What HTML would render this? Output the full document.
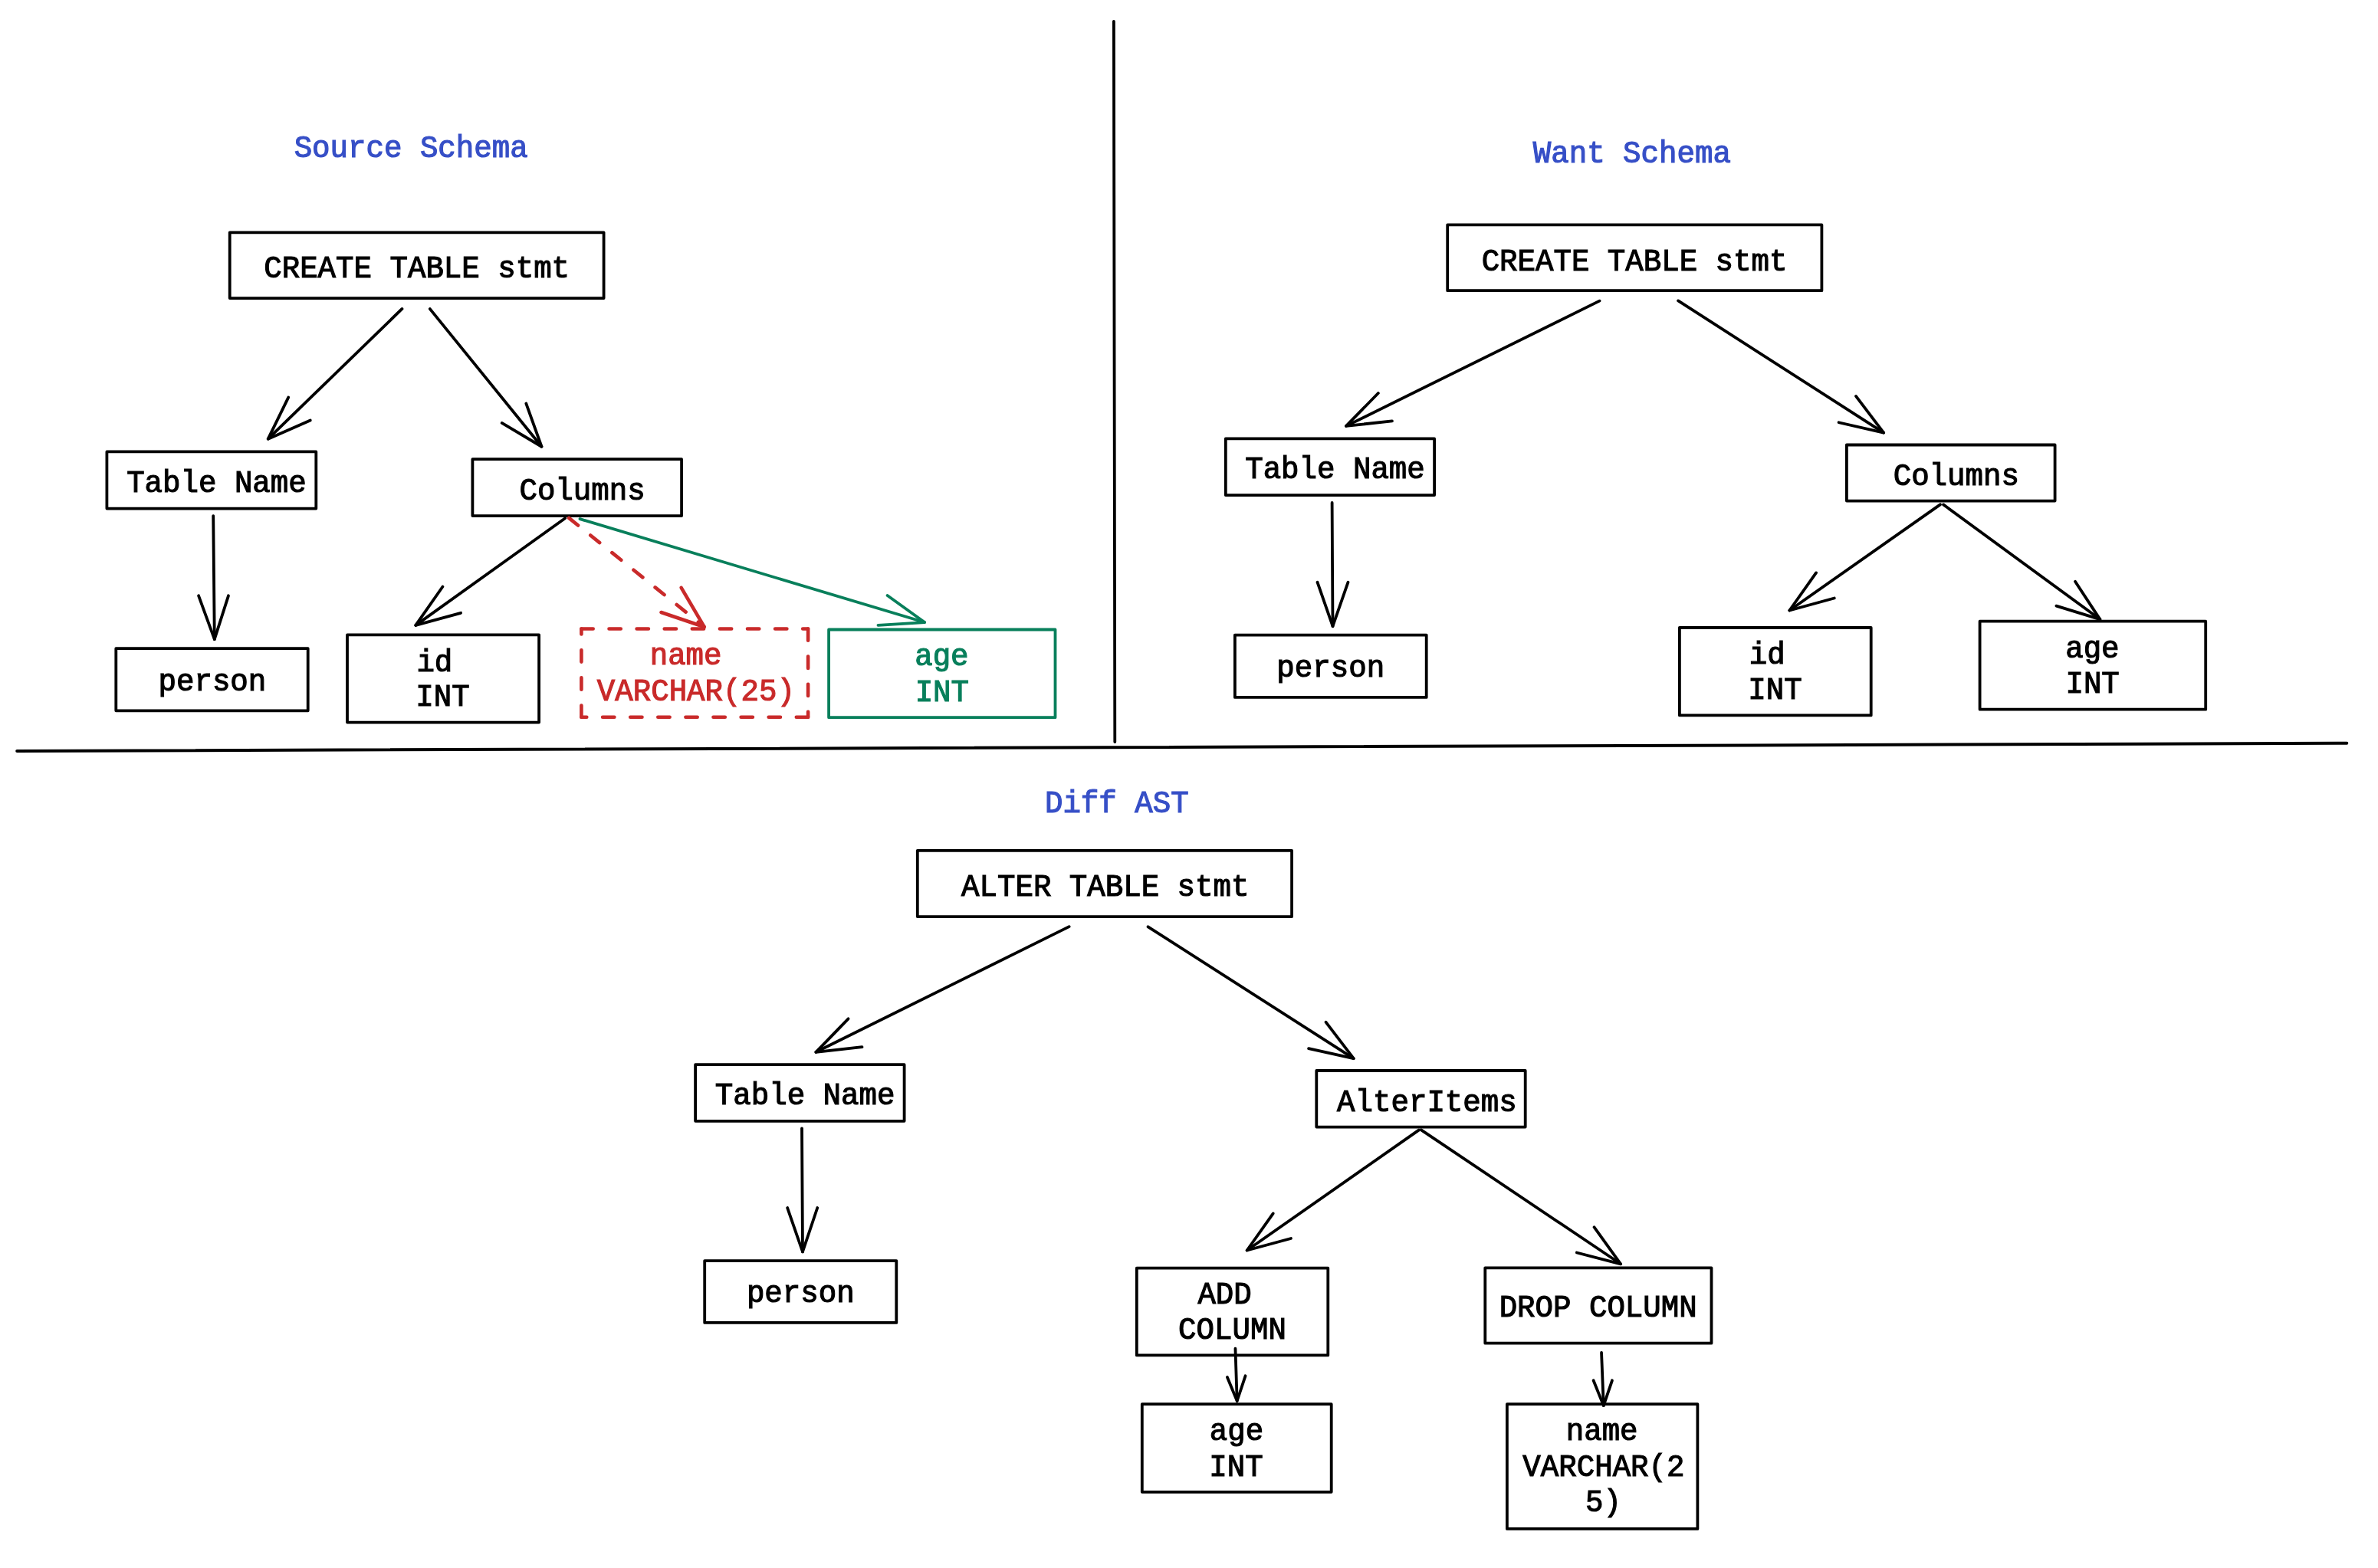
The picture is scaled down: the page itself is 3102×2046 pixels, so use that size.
<!DOCTYPE html>
<html><head><meta charset="utf-8"><title>Diagram</title>
<style>
html,body{margin:0;padding:0;background:#ffffff;width:3102px;height:2046px;overflow:hidden}
svg{display:block;will-change:transform}
text{font-family:"Liberation Mono",monospace;font-size:41px;stroke-width:1.2px;white-space:pre}
path{stroke-linecap:round;stroke-linejoin:round;fill:none}
</style></head><body>
<svg width="3102" height="2046" viewBox="0 0 3102 2046">
<path d="M1452.90 28.00L1454.30 968.00" stroke="#000000" stroke-width="3.8"/>
<path d="M22.20 980.00L3061.30 969.80" stroke="#000000" stroke-width="4.0"/>
<text transform="translate(383.66,204.50) scale(0.954,1.0)" fill="#364fc7" stroke="#364fc7">Source Schema</text>
<rect x="299.70" y="303.30" width="487.90" height="85.80" fill="none" stroke="#000000" stroke-width="3.8" stroke-linejoin="round"/>
<text transform="translate(344.24,362.00) scale(0.954,1.0)" fill="#000000" stroke="#000000">CREATE TABLE stmt</text>
<path d="M524.51 402.96L349.74 572.67" stroke="#000000" stroke-width="3.8"/>
<path d="M376.17 518.58L349.74 572.67L404.80 548.51" stroke="#000000" stroke-width="3.8" fill="none"/>
<path d="M560.86 403.08L706.48 582.75" stroke="#000000" stroke-width="3.8"/>
<path d="M686.26 526.42L706.48 582.75L654.65 551.99" stroke="#000000" stroke-width="3.8" fill="none"/>
<rect x="139.40" y="589.40" width="272.90" height="74.20" fill="none" stroke="#000000" stroke-width="3.8" stroke-linejoin="round"/>
<text transform="translate(165.13,642.40) scale(0.954,1.0)" fill="#000000" stroke="#000000">Table Name</text>
<rect x="616.40" y="599.20" width="272.70" height="73.90" fill="none" stroke="#000000" stroke-width="3.8" stroke-linejoin="round"/>
<text transform="translate(677.43,652.20) scale(0.954,1.0)" fill="#000000" stroke="#000000">Columns</text>
<path d="M278.21 673.22L279.80 834.11" stroke="#000000" stroke-width="3.8"/>
<path d="M259.06 777.31L279.80 834.11L297.97 777.32" stroke="#000000" stroke-width="3.8" fill="none"/>
<rect x="151.30" y="846.20" width="250.40" height="81.10" fill="none" stroke="#000000" stroke-width="3.8" stroke-linejoin="round"/>
<text transform="translate(206.50,901.20) scale(0.954,1.0)" fill="#000000" stroke="#000000">person</text>
<path d="M737.16 676.19L542.25 815.89" stroke="#000000" stroke-width="3.8"/>
<path d="M577.46 765.52L542.25 815.89L601.07 799.80" stroke="#000000" stroke-width="3.8" fill="none"/>
<rect x="453.00" y="828.40" width="250.10" height="114.20" fill="none" stroke="#000000" stroke-width="3.8" stroke-linejoin="round"/>
<text transform="translate(543.40,875.70) scale(0.954,1.0)" fill="#000000" stroke="#000000">id</text>
<text transform="translate(542.25,921.40) scale(0.954,1.0)" fill="#000000" stroke="#000000">INT</text>
<path d="M742.13 675.85L918.62 817.96" stroke="#c92a2a" stroke-width="4.6" stroke-dasharray="15.3 20.8"/>
<path d="M888.67 766.79L918.62 817.96L862.47 799.00" stroke="#c92a2a" stroke-width="4.6" fill="none"/>
<path d="M758.40 820.50L1054.10 820.50" stroke="#c92a2a" stroke-width="4.6" stroke-dasharray="15.3 20.8"/>
<path d="M1054.10 820.50L1054.10 935.80" stroke="#c92a2a" stroke-width="4.6" stroke-dasharray="15.3 20.8"/>
<path d="M1054.10 935.80L758.40 935.80" stroke="#c92a2a" stroke-width="4.6" stroke-dasharray="15.3 20.8"/>
<path d="M758.40 935.80L758.40 820.50" stroke="#c92a2a" stroke-width="4.6" stroke-dasharray="15.3 20.8"/>
<text transform="translate(847.68,867.30) scale(0.954,1.0)" fill="#c92a2a" stroke="#c92a2a">name</text>
<text transform="translate(778.82,913.70) scale(0.954,1.0)" fill="#c92a2a" stroke="#c92a2a">VARCHAR(25)</text>
<path d="M756.46 677.14L1206.12 812.05" stroke="#087f5b" stroke-width="3.8"/>
<path d="M1157.52 777.04L1206.12 812.05L1145.46 815.95" stroke="#087f5b" stroke-width="3.8" fill="none"/>
<rect x="1081.10" y="821.50" width="295.40" height="114.70" fill="none" stroke="#087f5b" stroke-width="3.8" stroke-linejoin="round"/>
<text transform="translate(1193.20,867.90) scale(0.954,1.0)" fill="#087f5b" stroke="#087f5b">age</text>
<text transform="translate(1193.65,914.50) scale(0.954,1.0)" fill="#087f5b" stroke="#087f5b">INT</text>
<text transform="translate(1999.79,212.40) scale(0.954,1.0)" fill="#364fc7" stroke="#364fc7">Want Schema</text>
<rect x="1888.20" y="293.30" width="488.20" height="85.90" fill="none" stroke="#000000" stroke-width="3.8" stroke-linejoin="round"/>
<text transform="translate(1932.64,352.80) scale(0.954,1.0)" fill="#000000" stroke="#000000">CREATE TABLE stmt</text>
<path d="M2086.54 392.67L1755.97 555.92" stroke="#000000" stroke-width="3.8"/>
<path d="M1797.87 513.04L1755.97 555.92L1815.94 549.38" stroke="#000000" stroke-width="3.8" fill="none"/>
<path d="M2189.08 392.42L2457.14 564.60" stroke="#000000" stroke-width="3.8"/>
<path d="M2420.96 516.90L2457.14 564.60L2398.54 551.27" stroke="#000000" stroke-width="3.8" fill="none"/>
<rect x="1598.80" y="572.40" width="272.30" height="73.70" fill="none" stroke="#000000" stroke-width="3.8" stroke-linejoin="round"/>
<text transform="translate(1624.19,624.00) scale(0.954,1.0)" fill="#000000" stroke="#000000">Table Name</text>
<rect x="2408.90" y="580.50" width="271.70" height="73.10" fill="none" stroke="#000000" stroke-width="3.8" stroke-linejoin="round"/>
<text transform="translate(2469.68,632.50) scale(0.954,1.0)" fill="#000000" stroke="#000000">Columns</text>
<path d="M1737.61 655.92L1738.50 817.21" stroke="#000000" stroke-width="3.8"/>
<path d="M1718.55 759.82L1738.50 817.21L1758.45 759.82" stroke="#000000" stroke-width="3.8" fill="none"/>
<rect x="1610.90" y="828.60" width="249.80" height="81.30" fill="none" stroke="#000000" stroke-width="3.8" stroke-linejoin="round"/>
<text transform="translate(1665.35,883.20) scale(0.954,1.0)" fill="#000000" stroke="#000000">person</text>
<path d="M2530.96 658.37L2334.36 796.49" stroke="#000000" stroke-width="3.8"/>
<path d="M2369.06 747.42L2334.36 796.49L2392.77 780.50" stroke="#000000" stroke-width="3.8" fill="none"/>
<rect x="2190.90" y="819.00" width="249.80" height="114.40" fill="none" stroke="#000000" stroke-width="3.8" stroke-linejoin="round"/>
<text transform="translate(2281.70,866.30) scale(0.954,1.0)" fill="#000000" stroke="#000000">id</text>
<text transform="translate(2280.35,912.00) scale(0.954,1.0)" fill="#000000" stroke="#000000">INT</text>
<path d="M2535.03 658.40L2739.35 808.09" stroke="#000000" stroke-width="3.8"/>
<path d="M2707.02 758.83L2739.35 808.09L2682.43 790.62" stroke="#000000" stroke-width="3.8" fill="none"/>
<rect x="2582.60" y="810.70" width="294.60" height="115.00" fill="none" stroke="#000000" stroke-width="3.8" stroke-linejoin="round"/>
<text transform="translate(2694.20,858.30) scale(0.954,1.0)" fill="#000000" stroke="#000000">age</text>
<text transform="translate(2694.45,904.30) scale(0.954,1.0)" fill="#000000" stroke="#000000">INT</text>
<text transform="translate(1362.93,1059.50) scale(0.954,1.0)" fill="#364fc7" stroke="#364fc7">Diff AST</text>
<rect x="1196.80" y="1109.90" width="488.30" height="86.20" fill="none" stroke="#000000" stroke-width="3.8" stroke-linejoin="round"/>
<text transform="translate(1254.07,1168.80) scale(0.954,1.0)" fill="#000000" stroke="#000000">ALTER TABLE stmt</text>
<path d="M1394.64 1209.17L1064.37 1372.82" stroke="#000000" stroke-width="3.8"/>
<path d="M1106.57 1329.34L1064.37 1372.82L1124.54 1366.18" stroke="#000000" stroke-width="3.8" fill="none"/>
<path d="M1497.58 1209.32L1765.74 1381.20" stroke="#000000" stroke-width="3.8"/>
<path d="M1729.46 1333.70L1765.74 1381.20L1707.04 1368.07" stroke="#000000" stroke-width="3.8" fill="none"/>
<rect x="907.10" y="1389.20" width="272.50" height="73.60" fill="none" stroke="#000000" stroke-width="3.8" stroke-linejoin="round"/>
<text transform="translate(932.83,1441.30) scale(0.954,1.0)" fill="#000000" stroke="#000000">Table Name</text>
<rect x="1717.30" y="1397.00" width="272.40" height="73.60" fill="none" stroke="#000000" stroke-width="3.8" stroke-linejoin="round"/>
<text transform="translate(1744.09,1449.60) scale(0.954,1.0)" fill="#000000" stroke="#000000">AlterItems</text>
<path d="M1046.01 1472.32L1047.00 1633.41" stroke="#000000" stroke-width="3.8"/>
<path d="M1027.15 1576.02L1047.00 1633.41L1066.26 1576.02" stroke="#000000" stroke-width="3.8" fill="none"/>
<rect x="919.20" y="1645.10" width="250.10" height="80.80" fill="none" stroke="#000000" stroke-width="3.8" stroke-linejoin="round"/>
<text transform="translate(973.90,1699.30) scale(0.954,1.0)" fill="#000000" stroke="#000000">person</text>
<path d="M1850.75 1474.57L1626.66 1631.49" stroke="#000000" stroke-width="3.8"/>
<path d="M1660.76 1583.42L1626.66 1631.49L1683.97 1616.00" stroke="#000000" stroke-width="3.8" fill="none"/>
<path d="M1853.86 1474.35L2114.14 1649.29" stroke="#000000" stroke-width="3.8"/>
<path d="M2079.45 1601.22L2114.14 1649.29L2056.84 1634.49" stroke="#000000" stroke-width="3.8" fill="none"/>
<rect x="1482.80" y="1654.70" width="249.50" height="113.70" fill="none" stroke="#000000" stroke-width="3.8" stroke-linejoin="round"/>
<text transform="translate(1562.41,1700.90) scale(0.954,1.0)" fill="#000000" stroke="#000000">ADD</text>
<text transform="translate(1537.08,1747.30) scale(0.954,1.0)" fill="#000000" stroke="#000000">COLUMN</text>
<rect x="1937.30" y="1654.30" width="295.20" height="98.40" fill="none" stroke="#000000" stroke-width="3.8" stroke-linejoin="round"/>
<text transform="translate(1955.63,1717.70) scale(0.954,1.0)" fill="#000000" stroke="#000000">DROP COLUMN</text>
<path d="M1611.45 1759.72L1613.69 1828.01" stroke="#000000" stroke-width="3.8"/>
<path d="M1600.89 1797.00L1613.69 1828.01L1624.56 1795.32" stroke="#000000" stroke-width="3.8" fill="none"/>
<rect x="1489.80" y="1832.20" width="246.90" height="114.60" fill="none" stroke="#000000" stroke-width="3.8" stroke-linejoin="round"/>
<text transform="translate(1577.75,1879.40) scale(0.954,1.0)" fill="#000000" stroke="#000000">age</text>
<text transform="translate(1577.30,1925.80) scale(0.954,1.0)" fill="#000000" stroke="#000000">INT</text>
<path d="M2089.06 1765.02L2091.79 1834.11" stroke="#000000" stroke-width="3.8"/>
<path d="M2078.58 1801.31L2091.79 1834.11L2102.96 1801.32" stroke="#000000" stroke-width="3.8" fill="none"/>
<rect x="1965.90" y="1832.20" width="248.50" height="162.70" fill="none" stroke="#000000" stroke-width="3.8" stroke-linejoin="round"/>
<text transform="translate(2042.73,1879.40) scale(0.954,1.0)" fill="#000000" stroke="#000000">name</text>
<text transform="translate(1986.34,1925.80) scale(0.954,1.0)" fill="#000000" stroke="#000000">VARCHAR(2</text>
<text transform="translate(2067.98,1971.90) scale(0.954,1.0)" fill="#000000" stroke="#000000">5)</text>
</svg>
</body></html>
